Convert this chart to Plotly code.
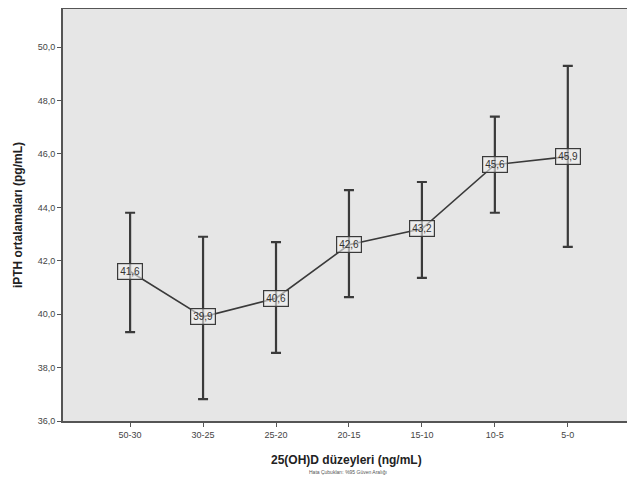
import plotly.graph_objects as go

categories = ["50-30", "30-25", "25-20", "20-15", "15-10", "10-5", "5-0"]
means = [41.6, 39.9, 40.6, 42.6, 43.2, 45.6, 45.9]
upper = [43.8, 42.9, 42.7, 44.65, 44.95, 47.4, 49.3]
lower = [39.33, 36.82, 38.55, 40.64, 41.36, 43.8, 42.52]
mean_labels = ["41,6", "39,9", "40,6", "42,6", "43,2", "45,6", "45,9"]
ytick_vals = [36, 38, 40, 42, 44, 46, 48, 50]
ytick_text = ["36,0", "38,0", "40,0", "42,0", "44,0", "46,0", "48,0", "50,0"]

xi = list(range(len(categories)))
err_plus = [u - m for u, m in zip(upper, means)]
err_minus = [m - l for m, l in zip(means, lower)]

fig = go.Figure()
fig.add_trace(go.Scatter(
    x=xi, y=means, mode="lines",
    line=dict(color="#3a3a3a", width=1.6),
    error_y=dict(type="data", symmetric=False, array=err_plus, arrayminus=err_minus,
                 color="#3a3a3a", thickness=2.2, width=5),
    hoverinfo="skip", showlegend=False,
))

for x, y, t in zip(xi, means, mean_labels):
    fig.add_annotation(x=x, y=y, text=t, showarrow=False,
                       font=dict(family="Liberation Sans", size=10, color="#333333"),
                       bgcolor="rgba(240,240,240,0.6)", bordercolor="#3a3a3a",
                       borderwidth=1.2, borderpad=2)

fig.add_annotation(x=0.499, y=-0.095, xref="paper", yref="paper", yanchor="middle",
                   text="<b>25(OH)D düzeyleri (ng/mL)</b>", showarrow=False,
                   font=dict(family="Liberation Sans", size=12, color="#222222"))
fig.add_annotation(x=0.5, y=-0.124, xref="paper", yref="paper", yanchor="middle",
                   text="Hata Çubukları: %95 Güven Aralığı", showarrow=False,
                   font=dict(family="Liberation Sans", size=5, color="#555555"))
fig.add_annotation(x=-0.079, y=0.5, xref="paper", yref="paper", xanchor="center",
                   yanchor="middle", textangle=-90,
                   text="<b>iPTH ortalamaları (pg/mL)</b>", showarrow=False,
                   font=dict(family="Liberation Sans", size=12, color="#222222"))

fig.update_layout(
    width=635, height=493,
    margin=dict(l=55, r=11, t=1, b=80),
    paper_bgcolor="white",
    plot_bgcolor="#e6e6e6",
    font=dict(family="Liberation Sans", color="#333333"),
)
fig.update_xaxes(
    range=[-0.92, 6.88], tickmode="array", tickvals=xi, ticktext=categories,
    showgrid=False, zeroline=False, ticks="outside", ticklen=4, tickcolor="#555555",
    tickfont=dict(size=9, color="#444444"), automargin=False,
    showline=True, linecolor="#555555", linewidth=2, mirror=True,
)
fig.update_yaxes(
    range=[36, 51.43], tickmode="array", tickvals=ytick_vals, ticktext=ytick_text,
    showgrid=False, zeroline=False, ticks="outside", ticklen=4, tickcolor="#555555",
    tickfont=dict(size=9, color="#444444"), automargin=False,
    showline=True, linecolor="#555555", linewidth=2, mirror=True,
)

fig.write_html("out.html")
